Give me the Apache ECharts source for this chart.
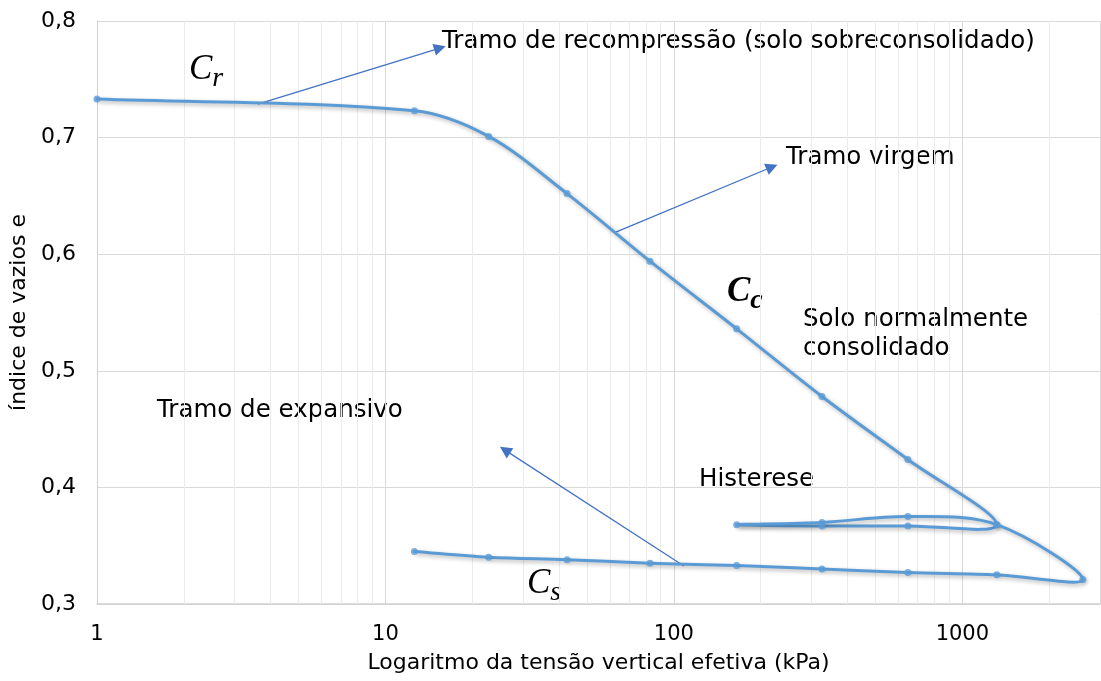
<!DOCTYPE html>
<html>
<head>
<meta charset="utf-8">
<script src="https://cdn.jsdelivr.net/npm/echarts@6/dist/echarts.min.js"></script>
<style>
  html, body { margin: 0; padding: 0; background: #fff; }
  #mybox { width: 1101px; height: 681px; }
</style>
</head>
<body>
<div id="mybox"></div>
<script>
// tensões (kPa) e índices de vazios, na ordem do ensaio
var tensao = [1, 12.6, 22.8, 42.6, 82.6, 165, 326, 647, 1316,
              647, 326, 165,
              326, 647, 1316,
              2617,
              1316, 647, 326, 165, 82.6, 42.6, 22.8, 12.6];
var vazios = [0.733, 0.723, 0.701, 0.652, 0.594, 0.536, 0.478, 0.424, 0.368,
              0.367, 0.367, 0.368,
              0.370, 0.375, 0.368,
              0.321,
              0.325, 0.327, 0.330, 0.333, 0.335, 0.338, 0.340, 0.345];

// linhas de grade secundárias do eixo logarítmico
var gradeMenor = [2, 3, 4, 5, 6, 7, 8, 9, 20, 30, 40, 50, 60, 70, 80, 90,
                  200, 300, 400, 500, 600, 700, 800, 900, 2000];

// setas de anotação [x1, y1, x2, y2]
var setas = [
    [3.61, 0.7288, 15.45, 0.7768],
    [62.9, 0.619, 218.7, 0.6748],
    [108.3, 0.3326, 25.96, 0.432]
];

var fonte = 'DejaVu Sans';
var azul = '#5B9BD5';
var mycharts = echarts.init(document.getElementById('mybox'));

var pontos = tensao.map(function (t, i) { return [t, vazios[i]]; });

function dist(a, b) { return Math.sqrt((a[0] - b[0]) * (a[0] - b[0]) + (a[1] - b[1]) * (a[1] - b[1])); }

// curva suavizada entre o ponto i e o i+1 (tangente ponderada pelo comprimento dos trechos)
function desenhaTrecho(params, api) {
    var i = params.dataIndex;
    var n = pontos.length;
    if (i >= n - 1) return null;
    var p0 = api.coord(pontos[Math.max(i - 1, 0)]);
    var p1 = api.coord(pontos[i]);
    var p2 = api.coord(pontos[i + 1]);
    var p3 = api.coord(pontos[Math.min(i + 2, n - 1)]);
    var l01 = dist(p0, p1), l12 = dist(p1, p2), l23 = dist(p2, p3);
    var k1 = (l01 + l12) > 0 ? l12 / (l01 + l12) / 3 : 0;
    var k2 = (l12 + l23) > 0 ? l12 / (l12 + l23) / 3 : 0;
    return {
        type: 'bezierCurve',
        shape: {
            x1: p1[0], y1: p1[1],
            cpx1: p1[0] + (p2[0] - p0[0]) * k1, cpy1: p1[1] + (p2[1] - p0[1]) * k1,
            cpx2: p2[0] - (p3[0] - p1[0]) * k2, cpy2: p2[1] - (p3[1] - p1[1]) * k2,
            x2: p2[0], y2: p2[1]
        },
        style: {
            stroke: azul, lineWidth: 3, fill: null, lineCap: 'round',
            shadowColor: 'rgba(0,0,0,0.3)', shadowBlur: 4,
            shadowOffsetX: 2, shadowOffsetY: 2
        }
    };
}

var option = {
    animation: false,
    grid: { left: 97, right: 1, top: 21, bottom: 77 },
    xAxis: {
        type: 'log',
        logBase: 10,
        min: 1,
        max: 3000,
        name: 'Logaritmo da tensão vertical efetiva (kPa)',
        nameLocation: 'middle',
        nameGap: 48,
        nameTextStyle: { fontFamily: fonte, fontSize: 22, color: '#000' },
        axisLine: { lineStyle: { color: '#D0D0D0', width: 1.5 } },
        axisTick: { show: false },
        axisLabel: {
            fontFamily: fonte, fontSize: 21, color: '#000', margin: 20, showMaxLabel: false,
            formatter: function (v) { return String(Math.round(v)); }
        },
        splitLine: { show: true, lineStyle: { color: '#D9D9D9', width: 1 } }
    },
    yAxis: {
        type: 'value',
        min: 0.3,
        max: 0.8,
        interval: 0.1,
        name: 'índice de vazios e',
        nameLocation: 'middle',
        nameGap: 64,
        nameTextStyle: { fontFamily: fonte, fontSize: 22, color: '#000' },
        axisLine: { show: true, lineStyle: { color: '#D0D0D0', width: 1 } },
        axisTick: { show: false },
        axisLabel: {
            fontFamily: fonte, fontSize: 22, color: '#000', margin: 21,
            formatter: function (v) { return v.toFixed(1).replace('.', ','); }
        },
        splitLine: { show: true, lineStyle: { color: '#D9D9D9', width: 1 } }
    },
    series: [
        {
            type: 'line',
            data: [],
            silent: true,
            markLine: {
                silent: true,
                symbol: 'none',
                label: { show: false },
                lineStyle: { color: '#EBEBEB', width: 1, type: 'solid' },
                data: gradeMenor.map(function (v) { return { xAxis: v }; })
            }
        },
        {
            type: 'line',
            data: [],
            silent: true,
            markLine: {
                silent: true,
                symbol: ['none', 'triangle'],
                symbolSize: 12,
                label: { show: false },
                itemStyle: { color: '#4472C4' },
                lineStyle: { color: '#4472C4', width: 1.3, type: 'solid' },
                data: setas.map(function (s) {
                    return [{ coord: [s[0], s[1]] }, { coord: [s[2], s[3]] }];
                })
            },
            z: 4
        },
        {
            type: 'custom',
            data: pontos,
            renderItem: desenhaTrecho,
            silent: true,
            z: 5
        },
        {
            type: 'scatter',
            data: pontos,
            symbol: 'circle',
            symbolSize: 7,
            itemStyle: { color: azul },
            z: 6
        }
    ],
    graphic: [
        { type: 'text', left: 442, top: 29, style: { text: 'Tramo de recompressão (solo sobreconsolidado)', font: '24.5px "DejaVu Sans"', fill: '#000' } },
        { type: 'text', left: 786, top: 145, style: { text: 'Tramo virgem', font: '24.5px "DejaVu Sans"', fill: '#000' } },
        { type: 'text', left: 803, top: 305, style: { text: 'Solo normalmente\nconsolidado', font: '24.5px "DejaVu Sans"', fill: '#000', lineHeight: 29 } },
        { type: 'text', left: 157, top: 398, style: { text: 'Tramo de expansivo', font: '24.5px "DejaVu Sans"', fill: '#000' } },
        { type: 'text', left: 699, top: 467, style: { text: 'Histerese', font: '24.5px "DejaVu Sans"', fill: '#000' } },
        { type: 'text', left: 189, top: 52, style: { text: '{c|C}{s|r}', rich: {
            c: { font: 'italic 35px "Liberation Serif"', fill: '#000' },
            s: { font: 'italic 28px "Liberation Serif"', fill: '#000', padding: [18, 0, 0, 0] } } } },
        { type: 'text', left: 727, top: 274, style: { text: '{c|C}{s|c}', rich: {
            c: { font: 'bold italic 35px "Liberation Serif"', fill: '#000' },
            s: { font: 'bold italic 28px "Liberation Serif"', fill: '#000', padding: [18, 0, 0, 0] } } } },
        { type: 'text', left: 527, top: 566, style: { text: '{c|C}{s|s}', rich: {
            c: { font: 'italic 35px "Liberation Serif"', fill: '#000' },
            s: { font: 'italic 28px "Liberation Serif"', fill: '#000', padding: [18, 0, 0, 0] } } } }
    ]
};

mycharts.setOption(option);
</script>
</body>
</html>
